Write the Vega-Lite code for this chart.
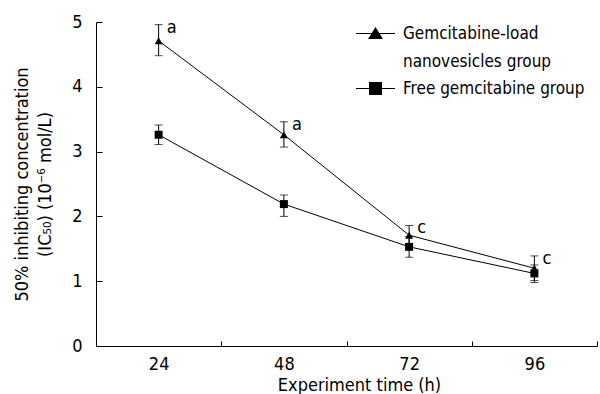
{
  "$schema": "https://vega.github.io/schema/vega-lite/v6.json",
  "width": 501,
  "height": 324,
  "autosize": {"type": "none"},
  "padding": {"left": 96, "top": 22, "right": 3, "bottom": 48},
  "background": "white",
  "config": {
    "font": "DejaVu Sans Condensed",
    "view": {"stroke": null},
    "style": {"guide-label": {"lineHeight": 28}},
    "axis": {"labelFont": "DejaVu Sans Condensed", "titleFont": "DejaVu Sans Condensed", "labelFontSize": 18, "titleFontSize": 18, "labelColor": "black", "titleColor": "black", "domainColor": "black", "tickColor": "black", "titleFontWeight": "normal", "grid": false}
  },
  "resolve": {"scale": {"shape": "independent"}},
  "data": {
    "values": [
      {"group": "Gemcitabine-load nanovesicles group", "time": "24", "mean": 4.71, "lo": 4.48, "hi": 4.96, "sig": "a"},
      {"group": "Gemcitabine-load nanovesicles group", "time": "48", "mean": 3.26, "lo": 3.07, "hi": 3.46, "sig": "a"},
      {"group": "Gemcitabine-load nanovesicles group", "time": "72", "mean": 1.71, "lo": 1.56, "hi": 1.86, "sig": "c"},
      {"group": "Gemcitabine-load nanovesicles group", "time": "96", "mean": 1.2, "lo": 1.01, "hi": 1.39, "sig": "c"},
      {"group": "Free gemcitabine group", "time": "24", "mean": 3.26, "lo": 3.11, "hi": 3.41, "sig": ""},
      {"group": "Free gemcitabine group", "time": "48", "mean": 2.19, "lo": 2.0, "hi": 2.33, "sig": ""},
      {"group": "Free gemcitabine group", "time": "72", "mean": 1.53, "lo": 1.37, "hi": 1.69, "sig": ""},
      {"group": "Free gemcitabine group", "time": "96", "mean": 1.12, "lo": 0.98, "hi": 1.25, "sig": ""}
    ]
  },
  "encoding": {
    "x": {
      "field": "time", "type": "ordinal",
      "scale": {"type": "band", "paddingInner": 0, "paddingOuter": 0},
      "axis": {"title": "Experiment time (h)", "labelAngle": 0, "tickBand": "extent", "tickSize": -5, "labelPadding": 14, "titlePadding": 3, "titleX": 263}
    }
  },
  "layer": [
    {
      "mark": {"type": "rule", "color": "black", "strokeWidth": 1},
      "encoding": {
        "y": {"field": "lo", "type": "quantitative"},
        "y2": {"field": "hi"}
      }
    },
    {
      "mark": {"type": "tick", "color": "black", "size": 8, "thickness": 1},
      "encoding": {"y": {"field": "lo", "type": "quantitative"}}
    },
    {
      "mark": {"type": "tick", "color": "black", "size": 8, "thickness": 1},
      "encoding": {"y": {"field": "hi", "type": "quantitative"}}
    },
    {
      "mark": {"type": "line", "color": "black", "strokeWidth": 1},
      "encoding": {
        "y": {"field": "mean", "type": "quantitative"},
        "detail": {"field": "group"}
      }
    },
    {
      "mark": {"type": "point", "filled": true, "color": "black", "opacity": 1, "size": 64},
      "encoding": {
        "y": {
          "field": "mean", "type": "quantitative",
          "scale": {"domain": [0, 5]},
          "axis": {"title": ["50% inhibiting concentration", "(IC₅₀) (10⁻⁶ mol/L)"], "values": [0, 1, 2, 3, 4, 5], "format": "d", "tickSize": -6, "labelPadding": 20, "titlePadding": 17, "titleLineHeight": 23}
        },
        "shape": {
          "field": "group", "type": "nominal",
          "scale": {"domain": ["Gemcitabine-load nanovesicles group", "Free gemcitabine group"], "range": ["triangle-up", "square"]},
          "legend": null
        }
      }
    },
    {
      "mark": {"type": "point", "filled": true, "color": "black", "opacity": 0, "size": 100},
      "encoding": {
        "y": {"field": "mean", "type": "quantitative"},
        "shape": {
          "field": "group", "type": "nominal",
          "scale": {"domain": ["Gemcitabine-load nanovesicles group", "Free gemcitabine group"], "range": ["M-3.9,-0.1H3.9V0.1H-3.9ZM0,-1.3L1.5,1.1L-1.5,1.1Z", "M-3.9,-0.1H3.9V0.1H-3.9ZM-1.3,-1.3H1.3V1.3H-1.3Z"]},
          "legend": {
            "title": null,
            "orient": "none",
            "legendX": 271,
            "legendY": 3,
            "symbolSize": 100,
            "symbolOpacity": 1,
            "symbolFillColor": "black",
            "labelFontSize": 17,
            "labelFont": "DejaVu Sans Condensed",
            "labelColor": "black",
            "labelLimit": 400,
            "labelOffset": 19,
            "rowPadding": 9,
            "labelExpr": "datum.value == 'Gemcitabine-load nanovesicles group' ? ['Gemcitabine-load', 'nanovesicles group'] : datum.label"
          }
        }
      }
    },
    {
      "mark": {"type": "text", "align": "left", "baseline": "middle", "dx": 8, "dy": 3, "fontSize": 18, "font": "DejaVu Sans Condensed", "color": "black"},
      "encoding": {
        "y": {"field": "hi", "type": "quantitative"},
        "text": {"field": "sig"}
      }
    }
  ]
}
